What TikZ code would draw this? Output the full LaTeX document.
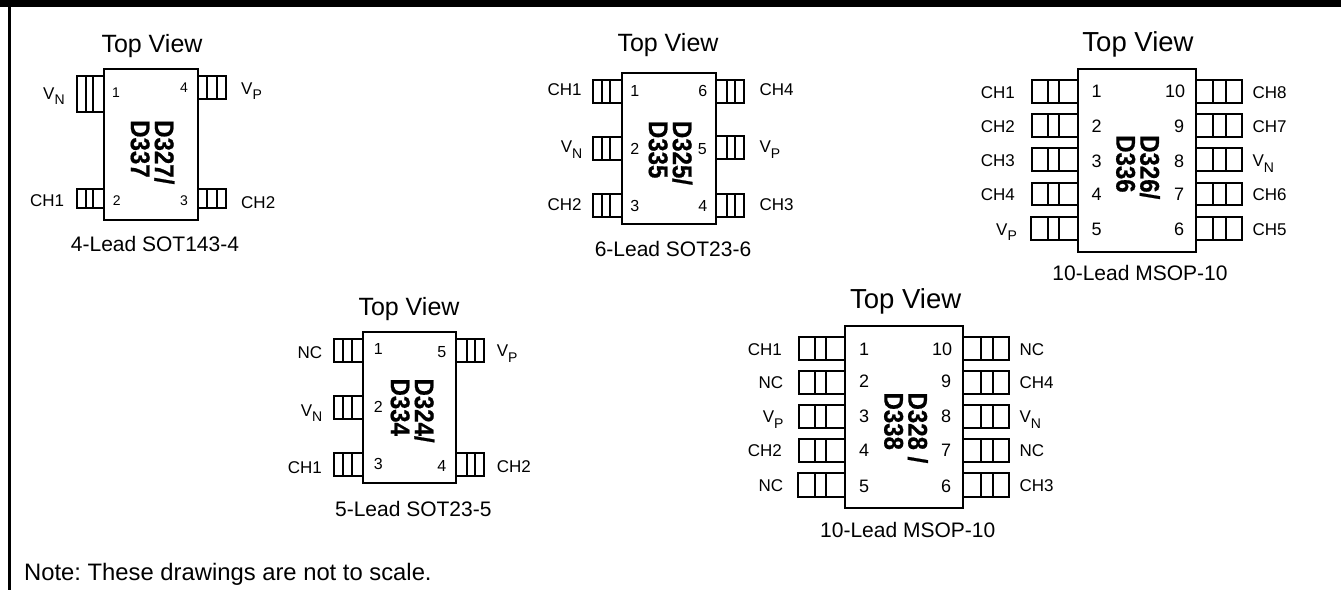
\documentclass[tikz,border=0pt]{standalone}
\usepackage{fontspec}
\setmainfont{Liberation Sans}
\newfontfamily\chipfont[FakeStretch=.89,BoldFeatures={FakeBold=.7}]{Liberation Sans}
\newcommand{\fpx}[1]{\fontsize{#1}{#1}\selectfont}
\frenchspacing
% lead: x outer, div1, div2, body, y1, y2
\newcommand{\lead}[6]{\draw[leadline] (#4,#5) -- (#1,#5) -- (#1,#6) -- (#4,#6) (#2,#5) -- (#2,#6) (#3,#5) -- (#3,#6);}
\newcommand{\sbs}[1]{\raisebox{-.33em}{\fontsize{14}{14}\selectfont #1}}
\newcommand{\VN}{V\sbs{N}}
\newcommand{\VP}{V\sbs{P}}
\tikzset{
  x=1pt,y=-1pt,
  body/.style={draw=black,line width=2.2pt,fill=white},
  leadline/.style={draw=black,line width=2pt},
  lab/.style={inner sep=0pt,anchor=base west,font=\fpx{17}},
  pin/.style={inner sep=0pt,anchor=center,font=\fpx{#1}},
  ttl/.style={inner sep=0pt,anchor=base,font=\fpx{#1}},
  captxt/.style={inner sep=0pt,anchor=base,font=\fpx{21}},
  chip/.style={inner sep=0pt,rotate=-90,anchor=west,align=left,font=\chipfont\bfseries\fontsize{27}{24}\selectfont},
}
\begin{document}
\begin{tikzpicture}
\useasboundingbox (0,0) rectangle (1341,590);
\fill[black] (0,0) rectangle (1341,7);
\draw[line width=2.4pt] (9.5,6) -- (9.5,590);
\node[lab,font=\fpx{23.8}] (note) at (24,580) {Note: These drawings are not to scale.};

% Package 1
\lead{77}{85.5}{92.7}{104}{75.7}{111.7}
\lead{77}{85.5}{92.7}{104}{188.7}{208}
\lead{226}{207}{216.7}{198}{75.7}{99}
\lead{226}{207}{216.7}{198}{188.7}{208}
\draw[body] (103.7,69) rectangle (198.3,220);
\node[ttl=25] (t1) at (152,52.7) {Top View};
\node[captxt] (c1) at (155,251.7) {4-Lead SOT143-4};
\node[lab] (a1) at (43,99) {\VN};
\node[lab] (a2) at (241,94) {\VP};
\node[lab] (a3) at (30,206) {CH1};
\node[lab] (a4) at (241,208) {CH2};
\node[pin=14] (p11) at (116,93) {1};
\node[pin=14] (p12) at (116.7,201) {2};
\node[pin=14] (p13) at (184,201) {3};
\node[pin=14] (p14) at (184,88) {4};
\node[chip] (d1) at (152.5,120) {D327/\\D337};

% Package 2
\lead{593.3}{601.7}{610}{622}{80}{102.7}
\lead{593.3}{601.7}{610}{622}{136.7}{160}
\lead{593.3}{601.7}{610}{622}{194}{216.7}
\lead{744.3}{726.7}{735}{716}{80}{102.7}
\lead{744.3}{726.7}{735}{716}{136}{159.3}
\lead{744.3}{726.7}{735}{716}{194}{216.7}
\draw[body] (621.7,72.7) rectangle (716,224);
\node[ttl=25] (t2) at (668,51.7) {Top View};
\node[captxt] (c2) at (673,256.7) {6-Lead SOT23-6};
\node[lab] (b1) at (547.3,95) {CH1};
\node[lab] (b2) at (560.7,152.7) {\VN};
\node[lab] (b3) at (547.3,210.7) {CH2};
\node[lab] (b4) at (759.3,95) {CH4};
\node[lab] (b5) at (759.3,152.7) {\VP};
\node[lab] (b6) at (759.3,210.7) {CH3};
\node[pin=16] (p21) at (634.7,91) {1};
\node[pin=16] (p22) at (634.7,149.3) {2};
\node[pin=16] (p23) at (634.7,206) {3};
\node[pin=16] (p24) at (702.7,206) {4};
\node[pin=16] (p25) at (702.3,149.3) {5};
\node[pin=16] (p26) at (702.7,91) {6};
\node[chip] (d2) at (670.5,120.7) {D325/\\D335};

% Package 3
\lead{1031.7}{1047.7}{1059}{1078}{80}{102.7}
\lead{1031.7}{1047.7}{1059}{1078}{114}{136.7}
\lead{1031.7}{1047.7}{1059}{1078}{148.3}{170.7}
\lead{1031.7}{1047.7}{1059}{1078}{182.7}{205}
\lead{1030.7}{1047.7}{1059}{1078}{216.7}{240}
\lead{1242}{1213.3}{1226}{1196}{80}{102.7}
\lead{1242}{1213.3}{1226}{1196}{114}{136.7}
\lead{1242}{1213.3}{1226}{1196}{148.3}{170.7}
\lead{1242}{1213.3}{1226}{1196}{182.7}{205}
\lead{1242}{1213.3}{1226}{1196}{216.7}{240}
\draw[body] (1077.7,69) rectangle (1196,251.7);
\node[ttl=27.5] (t3) at (1138,51.7) {Top View};
\node[captxt] (c3) at (1140,280.7) {10-Lead MSOP-10};
\node[lab] (e1) at (980.7,98.3) {CH1};
\node[lab] (e2) at (980.7,132.3) {CH2};
\node[lab] (e3) at (980.7,166.7) {CH3};
\node[lab] (e4) at (980.7,200) {CH4};
\node[lab] (e5) at (996,235) {\VP};
\node[lab] (e6) at (1252.3,235) {CH5};
\node[lab] (e7) at (1252.3,200) {CH6};
\node[lab] (e8) at (1252.3,166.7) {\VN};
\node[lab] (e9) at (1252.3,132.3) {CH7};
\node[lab] (e10) at (1252.3,98.3) {CH8};
\node[pin=18] (p31) at (1096.7,91.7) {1};
\node[pin=18] (p32) at (1096.7,126) {2};
\node[pin=18] (p33) at (1096.7,161) {3};
\node[pin=18] (p34) at (1096.7,194) {4};
\node[pin=18] (p35) at (1096.7,229) {5};
\node[pin=18] (p36) at (1179,229) {6};
\node[pin=18] (p37) at (1179,194) {7};
\node[pin=18] (p38) at (1179,161) {8};
\node[pin=18] (p39) at (1179,126) {9};
\node[pin=18] (p310) at (1175,91.7) {10};
\node[chip] (d3) at (1138,135) {D326/\\D336};

% Package 4
\lead{334.3}{343.3}{351.7}{363}{338.7}{361.7}
\lead{334.3}{343.3}{351.7}{363}{396}{419}
\lead{334.3}{343.3}{351.7}{363}{453.3}{475.7}
\lead{484}{466.7}{475}{456}{338.7}{361.7}
\lead{484}{466.7}{475}{456}{453.3}{475.7}
\draw[body] (362.7,332) rectangle (456,482.7);
\node[ttl=25] (t4) at (409,315) {Top View};
\node[captxt] (c4) at (413.3,516) {5-Lead SOT23-5};
\node[lab] (f1) at (297.3,358.3) {NC};
\node[lab] (f2) at (300.7,416) {\VN};
\node[lab] (f3) at (287.7,473.3) {CH1};
\node[lab] (f4) at (496.7,472.3) {CH2};
\node[lab] (f5) at (496.7,356.7) {\VP};
\node[pin=16] (p41) at (378.3,349.3) {1};
\node[pin=16] (p42) at (378.3,406.7) {2};
\node[pin=16] (p43) at (378.3,464) {3};
\node[pin=16] (p44) at (441.7,465.7) {4};
\node[pin=16] (p45) at (441.7,351.7) {5};
\node[chip] (d4) at (412.5,378.3) {D324/\\D334};

% Package 5
\lead{798.7}{815.3}{826}{845}{337}{360}
\lead{798.7}{815.3}{826}{845}{370.7}{394}
\lead{798.7}{815.3}{826}{845}{405}{428}
\lead{798.7}{815.3}{826}{845}{438.7}{462}
\lead{797.7}{814.5}{826}{845}{473.3}{496.7}
\lead{1009.3}{980.7}{993.3}{963}{337}{360}
\lead{1009.3}{980.7}{993.3}{963}{370.7}{394}
\lead{1009.3}{980.7}{993.3}{963}{405}{428}
\lead{1009.3}{980.7}{993.3}{963}{438.7}{462}
\lead{1009.3}{980.7}{993.3}{963}{473.3}{496.7}
\draw[body] (845,326) rectangle (962.7,508);
\node[ttl=27.5] (t5) at (905.7,308.3) {Top View};
\node[captxt] (c5) at (907.7,537.3) {10-Lead MSOP-10};
\node[lab] (g1) at (747.7,355) {CH1};
\node[lab] (g2) at (758.3,388.3) {NC};
\node[lab] (g3) at (762.7,422.7) {\VP};
\node[lab] (g4) at (747.7,456.7) {CH2};
\node[lab] (g5) at (758.3,491.7) {NC};
\node[lab] (g6) at (1019.3,491.7) {CH3};
\node[lab] (g7) at (1019.3,456.7) {NC};
\node[lab] (g8) at (1019.3,422.7) {\VN};
\node[lab] (g9) at (1019.3,388.3) {CH4};
\node[lab] (g10) at (1019.3,355) {NC};
\node[pin=18] (p51) at (864,349) {1};
\node[pin=18] (p52) at (864,381.7) {2};
\node[pin=18] (p53) at (864,416.7) {3};
\node[pin=18] (p54) at (864,450.7) {4};
\node[pin=18] (p55) at (864,486) {5};
\node[pin=18] (p56) at (946,486) {6};
\node[pin=18] (p57) at (946,450.7) {7};
\node[pin=18] (p58) at (946,416.7) {8};
\node[pin=18] (p59) at (946,381.7) {9};
\node[pin=18] (p510) at (942,349) {10};
\node[chip] (d5) at (906,392.3) {D328 /\\D338};
\end{tikzpicture}
\end{document}
